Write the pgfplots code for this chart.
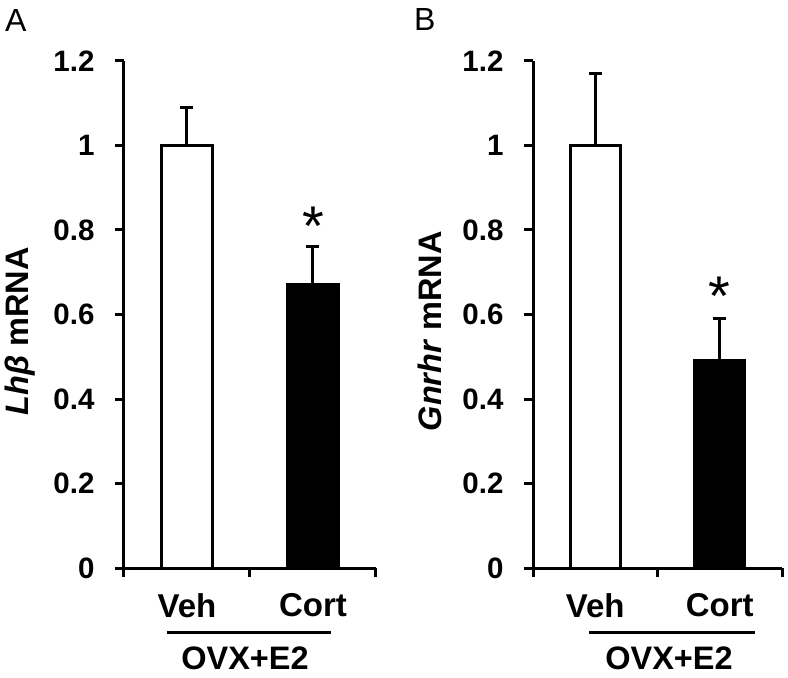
\documentclass[border=0pt]{standalone}
\usepackage{pgfplots}
\pgfplotsset{compat=1.18}
\usepackage{fontspec}
\setmainfont{Liberation Sans}
\begin{document}
\begin{tikzpicture}
\useasboundingbox (-124pt,-110pt) rectangle (664pt,568pt);
\pgfplotsset{
 mystyle/.style={
  scale only axis, width=252pt, height=507pt,
  xmin=-0.5,xmax=1.5,ymin=0,ymax=1.2,
  enlargelimits=false,
  axis x line=bottom, axis y line=left,
  axis line style={-, line width=3pt},
  every tick/.style={black, line width=3pt},
  tick align=outside, major tick length=9pt,
  xtick={-0.5,0.5,1.5}, xticklabels={},
  extra x ticks={0,1}, extra x tick labels={Veh,Cort},
  extra x tick style={major tick length=0pt},
  ytick={0,0.2,0.4,0.6,0.8,1,1.2}, yticklabels={0,0.2,0.4,0.6,0.8,1,1.2},
  yticklabel style={font=\bfseries\fontsize{29.5}{29.5}\selectfont, xshift=-17pt},
  xticklabel style={font=\bfseries\fontsize{33}{33}\selectfont, yshift=-22pt},
  ylabel style={at={(axis description cs:-0.413,0.467)}, anchor=center, font=\bfseries\fontsize{32.5}{32.5}\selectfont},
  ybar, bar width=0.4, bar shift=0pt,
  clip=false,
 },
 myerr/.style={error bars/.cd, y dir=plus, y explicit,
   error bar style={line width=3pt, black},
   error mark options={rotate=90, line width=3pt, mark size=6.5pt, black}},
}
% Panel A
\begin{axis}[mystyle, at={(0pt,0pt)}, anchor=south west, ylabel={\textit{Lhβ} mRNA}]
\addplot[fill=white, draw=black, line width=3pt, myerr] coordinates {(0,1.00) +- (0,0.09)};
\addplot[fill=black, draw=black, line width=3pt, myerr] coordinates {(1,0.67) +- (0,0.09)};
\node[anchor=north, inner sep=0pt, font=\fontsize{56}{56}\selectfont] at (axis cs:1,0.854) {*};
\end{axis}
% Panel B
\begin{axis}[mystyle, at={(409pt,0pt)}, anchor=south west, width=249pt, ylabel={\textit{Gnrhr} mRNA}]
\addplot[fill=white, draw=black, line width=3pt, myerr] coordinates {(0,1.00) +- (0,0.17)};
\addplot[fill=black, draw=black, line width=3pt, myerr] coordinates {(1,0.49) +- (0,0.10)};
\node[anchor=north, inner sep=0pt, font=\fontsize{56}{56}\selectfont] at (axis cs:1,0.689) {*};
\end{axis}
\draw[line width=3pt] (43pt,-64pt) -- (207pt,-64pt);
\node[font=\bfseries\fontsize{32.5}{32.5}\selectfont, anchor=base, inner sep=0pt] at (121pt,-101pt) {OVX+E2};
\draw[line width=3pt] (465pt,-64pt) -- (631pt,-64pt);
\node[font=\bfseries\fontsize{32.5}{32.5}\selectfont, anchor=base, inner sep=0pt] at (545pt,-101pt) {OVX+E2};
\node[font=\fontsize{32}{32}\selectfont, anchor=base west, inner sep=0pt] at (-119pt,536pt) {A};
\node[font=\fontsize{32}{32}\selectfont, anchor=base west, inner sep=0pt] at (290pt,537pt) {B};
\end{tikzpicture}
\end{document}
